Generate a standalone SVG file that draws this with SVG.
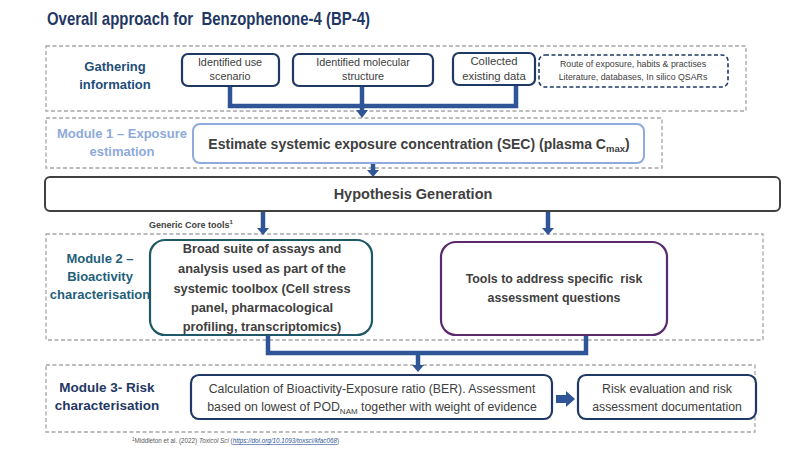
<svg xmlns="http://www.w3.org/2000/svg" width="800" height="450" viewBox="0 0 800 450">
<defs>
<style>
text{font-family:"Liberation Sans",Arial,sans-serif;white-space:pre;}
.dash{fill:none;stroke:#a6a6a6;stroke-width:1.3;stroke-dasharray:4 2.5;}
.nb{fill:#fff;stroke:#1f3864;stroke-width:2.2;}
.conn{fill:none;stroke:#2f5597;stroke-width:4.5;}
.ah{fill:#2f5597;}
.g{fill:#404040;text-anchor:middle;}
.b{font-weight:bold;}
.mid{text-anchor:middle;}
</style>
</defs>
<rect width="800" height="450" fill="#fff"/>
<text x="47" y="25" font-size="18.5" font-weight="bold" fill="#1f3864" textLength="323" lengthAdjust="spacingAndGlyphs" xml:space="preserve">Overall approach for  Benzophenone-4 (BP-4)</text>

<!-- section frames -->
<g id="gathering">
<rect class="dash" x="46" y="46" width="700" height="65"/>
<text class="mid b" x="115" y="71" font-size="13" fill="#1f4e79">Gathering</text>
<text class="mid b" x="115" y="89" font-size="13" fill="#1f4e79">information</text>
</g>
<g id="module1">
<rect class="dash" x="46" y="118" width="616" height="50"/>
<text class="mid b" x="122" y="138" font-size="13" fill="#8eaadb">Module 1 – Exposure</text>
<text class="mid b" x="122" y="156" font-size="13" fill="#8eaadb">estimation</text>
</g>
<g id="module2">
<rect class="dash" x="46" y="234" width="717" height="106"/>
<text class="mid b" x="100" y="263" font-size="13" fill="#1f5f7a">Module 2 –</text>
<text class="mid b" x="100" y="281" font-size="13" fill="#1f5f7a">Bioactivity</text>
<text class="mid b" x="100" y="299" font-size="13" fill="#1f5f7a">characterisation</text>
</g>
<g id="module3">
<rect class="dash" x="46" y="365" width="709" height="67"/>
<text class="mid b" x="107" y="392" font-size="13.5" fill="#1f3864">Module 3- Risk</text>
<text class="mid b" x="107" y="410" font-size="13.5" fill="#1f3864">characterisation</text>
</g>

<!-- connectors -->
<g id="connectors">
<path class="conn" d="M230,86 V106 H516 V84"/>
<path class="conn" d="M362,86 V111"/>
<polygon class="ah" points="356,110 368,110 362,118"/>
<path class="conn" d="M373,163 V171"/>
<polygon class="ah" points="367,170 379,170 373,177"/>
<path class="conn" d="M263,211 V229"/>
<polygon class="ah" points="257,228 269,228 263,235"/>
<path class="conn" d="M548,211 V229"/>
<polygon class="ah" points="542,228 554,228 548,235"/>
<path class="conn" d="M268,335 V353 H586 V335"/>
<path class="conn" d="M418,353 V366"/>
<polygon class="ah" points="412,365 424,365 418,372"/>
<polygon class="ah" points="556,395 566,395 566,391 575,399 566,407 566,403 556,403"/>
</g>

<g id="use-scenario">
<rect class="nb" x="182" y="54" width="97" height="32" rx="6"/>
<text class="g" x="230" y="66" font-size="10.8">Identified use</text>
<text class="g" x="230" y="80" font-size="10.8">scenario</text>
</g>
<g id="molecular-structure">
<rect class="nb" x="293" y="54" width="140" height="32" rx="6"/>
<text class="g" x="363" y="66" font-size="10.8">Identified molecular</text>
<text class="g" x="363" y="80" font-size="10.8">structure</text>
</g>
<g id="existing-data">
<rect class="nb" x="453" y="53" width="82" height="32" rx="6"/>
<text class="g" x="494" y="65" font-size="11.3">Collected</text>
<text class="g" x="494" y="80" font-size="11.3">existing data</text>
</g>
<g id="route">
<rect x="539" y="55" width="189" height="32" rx="6" fill="#fff" stroke="#1f3864" stroke-width="1.6" stroke-dasharray="4 2.5"/>
<text class="g" x="633" y="67" font-size="8.8">Route of exposure, habits &amp; practises</text>
<text class="g" x="633" y="80" font-size="8.8">Literature, databases, In silico QSARs</text>
</g>
<g id="sec">
<rect x="193" y="124" width="451" height="39" rx="7" fill="#fff" stroke="#8faadc" stroke-width="2"/>
<text class="g b" x="419" y="149" font-size="14">Estimate systemic exposure concentration (SEC) (plasma C<tspan font-size="9.5" dy="3">max</tspan><tspan dy="-3">)</tspan></text>
</g>
<g id="hypothesis">
<rect x="45" y="177" width="735" height="34" rx="5" fill="#fff" stroke="#404040" stroke-width="2"/>
<text class="g b" x="413" y="199" font-size="14.5">Hypothesis Generation</text>
</g>
<text x="149" y="228" font-size="9" font-weight="bold" fill="#404040">Generic Core tools<tspan font-size="6" dy="-4">1</tspan></text>
<g id="broad-suite">
<rect x="150" y="240" width="222" height="95" rx="15" fill="#fff" stroke="#215868" stroke-width="2.2"/>
<text class="g b" x="262" y="253" font-size="12.8">Broad suite of assays and</text>
<text class="g b" x="262" y="273" font-size="12.8">analysis used as part of the</text>
<text class="g b" x="262" y="293" font-size="12.8">systemic toolbox (Cell stress</text>
<text class="g b" x="262" y="312" font-size="12.8">panel, pharmacological</text>
<text class="g b" x="262" y="331" font-size="12.8">profiling, transcriptomics)</text>
</g>
<g id="specific-tools">
<rect x="441" y="242" width="226" height="93" rx="15" fill="#fff" stroke="#5b2a6e" stroke-width="2.2"/>
<text class="g b" x="554" y="283" font-size="12.4" xml:space="preserve">Tools to address specific  risk</text>
<text class="g b" x="554" y="302" font-size="12.4">assessment questions</text>
</g>
<g id="ber">
<rect class="nb" x="191" y="375" width="361" height="44" rx="8"/>
<text class="g" x="372" y="393" font-size="12.3">Calculation of Bioactivity-Exposure ratio (BER). Assessment</text>
<text class="g" x="372" y="411" font-size="12.3">based on lowest of POD<tspan font-size="8" dy="3">NAM</tspan><tspan dy="-3"> together with weight of evidence</tspan></text>
</g>
<g id="risk-evaluation">
<rect class="nb" x="578" y="375" width="178" height="44" rx="8"/>
<text class="g" x="667" y="393" font-size="12.3">Risk evaluation and risk</text>
<text class="g" x="667" y="411" font-size="12.3">assessment documentation</text>
</g>
<text x="132" y="443" font-size="6.3" fill="#595959"><tspan font-size="4.5" dy="-2">1</tspan><tspan dy="2">Middleton et al. (2022) </tspan><tspan font-style="italic">Toxicol Sci</tspan> (<tspan fill="#2f5597" text-decoration="underline" font-style="italic">https://doi.org/10.1093/toxsci/kfac068</tspan>)</text>
</svg>
